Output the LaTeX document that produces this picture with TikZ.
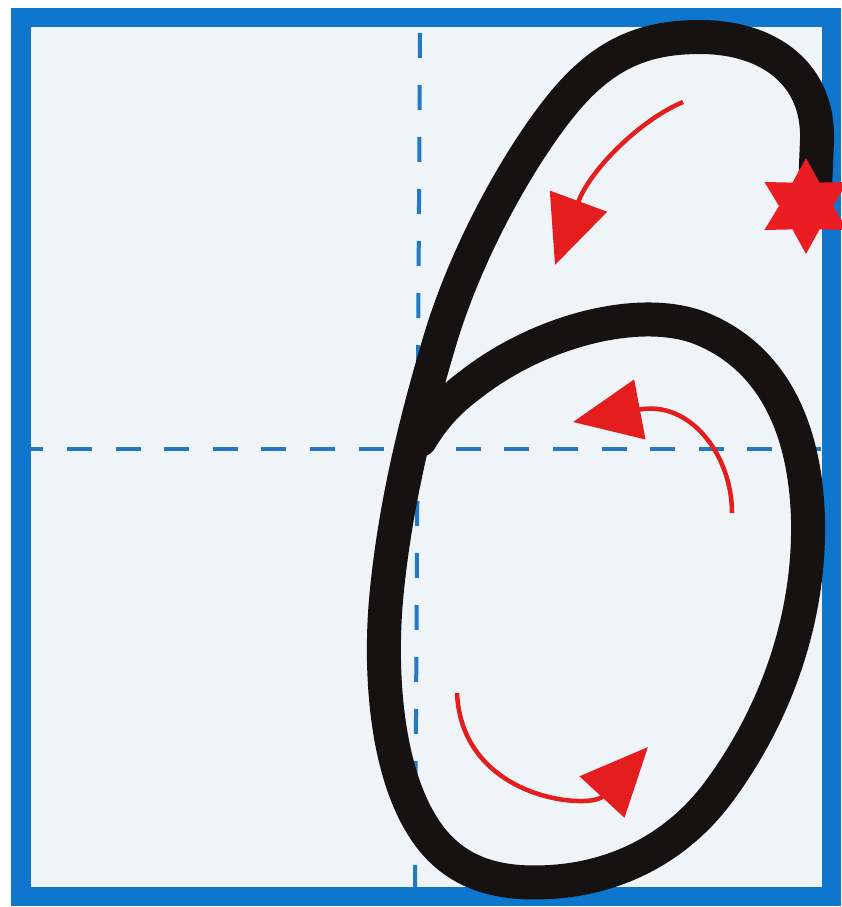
\documentclass[tikz,border=0pt]{standalone}
\usetikzlibrary{arrows.meta}
\definecolor{framblue}{RGB}{14,118,204}
\definecolor{dashblue}{RGB}{36,120,196}
\definecolor{paper}{RGB}{238,244,248}
\definecolor{ink}{RGB}{22,18,18}
\definecolor{arrowred}{RGB}{228,30,30}
\definecolor{starred}{RGB}{235,28,36}
\begin{document}
\begin{tikzpicture}[x=1pt,y=-1pt,
  guide/.style={dashblue, line width=4pt},
  strokesix/.style={ink, line width=34pt, line cap=round, line join=round},
  redarrow/.style={arrowred, line width=4.5pt, -{Triangle[length=68pt,width=60pt]}}]
\useasboundingbox (0,0) rectangle (841,907);
\fill[white] (0,0) rectangle (841,907);
\fill[paper] (11,8) rectangle (841,906);
% guide lines
\draw[guide, dash pattern=on 25pt off 23.6pt] (18.4,449) -- (832,449);
\draw[guide, dash pattern=on 25pt off 27pt] (420,33) -- (415,887);
% frame
\draw[framblue, line width=19.5pt] (20.75,17.75) rectangle (831.25,896.25);
% the figure six
\draw[strokesix] (815,190) -- (817,140)
  .. controls (819,75) and (770,37) .. (700,37)
  .. controls (650,37) and (610,50) .. (570,95)
  .. controls (530,140) and (470,240) .. (440,340)
  .. controls (420,407) and (395,500) .. (386,600)
  .. controls (380,670) and (385,770) .. (425,830)
  .. controls (455,875) and (500,885) .. (550,882)
  .. controls (620,878) and (680,845) .. (720,790)
  .. controls (775,715) and (810,620) .. (808,520)
  .. controls (806,440) and (780,360) .. (700,328)
  .. controls (640,305) and (540,330) .. (470,385)
  .. controls (450,400) and (435,415) .. (420,440);
% star
\begin{scope}[shift={(806,206)}]
\fill[starred] (90:48) -- (120:27) -- (150:48) -- (180:27) -- (210:48) -- (240:27)
  -- (270:48) -- (300:27) -- (330:48) -- (0:27) -- (30:48) -- (60:27) -- cycle;
\end{scope}
% arrows
\coordinate (a1s) at (683,102); \coordinate (a1e) at (555,265);
\coordinate (a2s) at (732,513); \coordinate (a2e) at (573,422);
\coordinate (a3s) at (457,693); \coordinate (a3e) at (648,747);
\draw[redarrow] (a1s) .. controls (640,120) and (590,170) .. (a1e);
\draw[redarrow] (a2s) .. controls (732,455) and (690,400) .. (a2e);
\draw[redarrow] (a3s) .. controls (462,800) and (590,810) .. (a3e);
\end{tikzpicture}
\end{document}
